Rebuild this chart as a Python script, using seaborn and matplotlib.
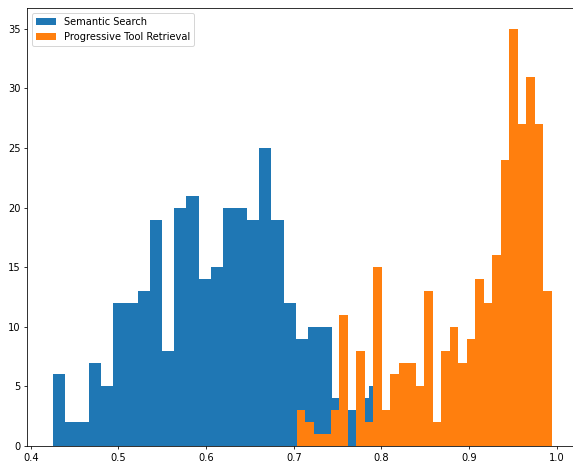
import matplotlib
matplotlib.use('Agg')
import matplotlib.pyplot as plt
import seaborn as sns
import numpy as np

# Histogram counts (30 bins each)
semantic_counts = [6, 2, 2, 7, 5, 12, 12, 13, 19, 8,
                   20, 21, 14, 15, 20, 20, 19, 25, 19, 12,
                   9, 10, 10, 4, 3, 4, 5, 2, 2, 2]
semantic_range = (0.4251, 0.8410)

progressive_counts = [3, 2, 1, 1, 3, 11, 0, 8, 2, 15,
                      3, 6, 7, 7, 5, 13, 2, 8, 10, 7,
                      9, 14, 12, 16, 24, 35, 27, 31, 27, 13]
progressive_range = (0.7034, 0.9943)

labels = ['Semantic Search', 'Progressive Tool Retrieval']
colors = ['#1f77b4', '#ff7f0e']


def centers(rng, n):
    edges = np.linspace(rng[0], rng[1], n + 1)
    return (edges[:-1] + edges[1:]) / 2


# reference looks like a downscaled render, so use a lower dpi
DPI = 71
fig = plt.figure(figsize=(573 / DPI, 461 / DPI), dpi=DPI)
ax = fig.add_axes([27.3 / 573, 15 / 461, 549.4 / 573, 438 / 461])

for counts, rng, label, color in [
    (semantic_counts, semantic_range, labels[0], colors[0]),
    (progressive_counts, progressive_range, labels[1], colors[1]),
]:
    sns.histplot(
        x=centers(rng, len(counts)),
        weights=counts,
        bins=len(counts),
        binrange=rng,
        color=color,
        alpha=1,
        linewidth=0,
        label=label,
        ax=ax,
    )

ax.set_xlim(0.3961, 1.0228)
ax.set_ylim(0, 36.75)
ax.set_ylabel('')
ax.set_xlabel('')
ax.legend(loc='upper left')

fig.savefig('out.png', dpi=DPI)
